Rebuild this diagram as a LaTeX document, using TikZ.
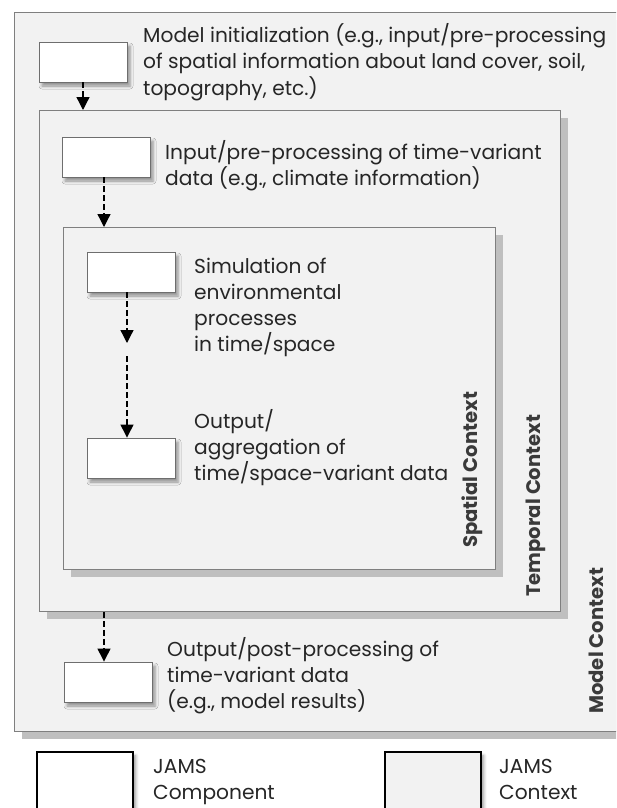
\documentclass[tikz,border=0pt]{standalone}
\usepackage{fontspec}
\setmainfont{Poppins}
\usetikzlibrary{arrows.meta,shadows,shadows.blur}

\definecolor{ctxfill}{HTML}{F2F2F2}
\definecolor{ctxline}{HTML}{7F7F7F}
\definecolor{ctxshade}{HTML}{BFBFBF}
\definecolor{compline}{HTML}{6E6E6E}
\definecolor{txt}{HTML}{262626}
\definecolor{ctxtxt}{HTML}{3A3A3A}

\newcommand\txtlines[1]{\begin{tabular}[t]{@{}l@{}}#1\end{tabular}}

\begin{document}
\begin{tikzpicture}[x=1pt,y=-1pt,
  ctxbox/.style={draw=ctxline, fill=ctxfill, line width=0.9, inner sep=0, anchor=north west,
    drop shadow={shadow xshift=8pt, shadow yshift=-8pt, fill=ctxshade, opacity=1}},
  compbox/.style={draw=compline, fill=white, line width=0.9, inner sep=0,
    minimum width=88, minimum height=40,
    blur shadow={shadow xshift=3pt, shadow yshift=-4pt, shadow blur radius=3pt}},
  legbox/.style={draw=black, line width=1.5, inner sep=0, anchor=north west,
    minimum width=96, minimum height=90,
    blur shadow={shadow xshift=3pt, shadow yshift=-4pt, shadow blur radius=3pt}},
  label/.style={anchor=base west, inner sep=0, text=txt,
    font=\fontsize{20.2}{26}\selectfont},
  ctxlabel/.style={rotate=90, anchor=base west, inner sep=0, text=ctxtxt,
    font=\fontsize{19.6}{21}\selectfont\bfseries},
  flow/.style={draw=black, line width=1.3, dash pattern=on 6pt off 3pt,
    -{Triangle[width=13pt,length=13pt]}}
]
\useasboundingbox (0,0) rectangle (616,808);
\clip (0,0) rectangle (616,808);

% nested contexts; the outermost one runs past the right edge of the page
\node[ctxbox, draw=none, minimum width=680, minimum height=719] (model) at (14,12) {};
\draw[ctxline, line width=0.9] (model.north east) -- (model.north west)
  -- (model.south west) -- (model.south east);
\node[ctxbox, minimum width=521, minimum height=501] (temporal) at (39,110) {};
\node[ctxbox, minimum width=432, minimum height=342] (spatial) at (63,227) {};

% components
\node[compbox] (init) at (83,62) {};
\node[compbox] (input) at (106,157) {};
\node[compbox] (sim) at (131,272) {};
\node[compbox] (agg) at (131,458) {};
\node[compbox] (post) at (108,682) {};

% component descriptions
\node[label] (initT) at (143,43) {\txtlines{Model initialization (e.g., input/pre-processing\\of spatial information about land cover, soil,\\topography, etc.)}};
\node[label] (inputT) at (165,159) {\txtlines{Input/pre-processing of time-variant\\data (e.g., climate information)}};
\node[label] (simT) at (194,273) {\txtlines{Simulation of\\environmental\\processes\\in time/space}};
\node[label] (aggT) at (194,428) {\txtlines{Output/\\aggregation of\\time/space-variant data}};
\node[label] (postT) at (167,656) {\txtlines{Output/post-processing of\\time-variant data\\(e.g., model results)}};

% context names
\node[ctxlabel] (spatialT) at (477,548) {Spatial Context};
\node[ctxlabel] (temporalT) at (540,597) {Temporal Context};
\node[ctxlabel] (modelT) at (603,714) {Model Context};

% data flow
\coordinate (loop) at (127,356);
\draw[flow] (init.south -| 83,0) -- (temporal.north -| 83,0);
\draw[flow] (input.south -| 104,0) -- (spatial.north -| 104,0);
\draw[flow] (sim.south -| 127,0) -- (127,343);
\draw[flow] (loop) -- (agg.north -| 127,0);
\draw[flow] (temporal.south -| 104,0) -- (post.north -| 104,0);

% legend
\node[legbox, fill=white] (legComp) at (36,751) {};
\node[legbox, fill=ctxfill] (legCtx) at (384,751) {};
\node[label] (legCompT) at (153,773) {\txtlines{JAMS\\Component}};
\node[label] (legCtxT) at (499,773) {\txtlines{JAMS\\Context}};
\end{tikzpicture}
\end{document}
